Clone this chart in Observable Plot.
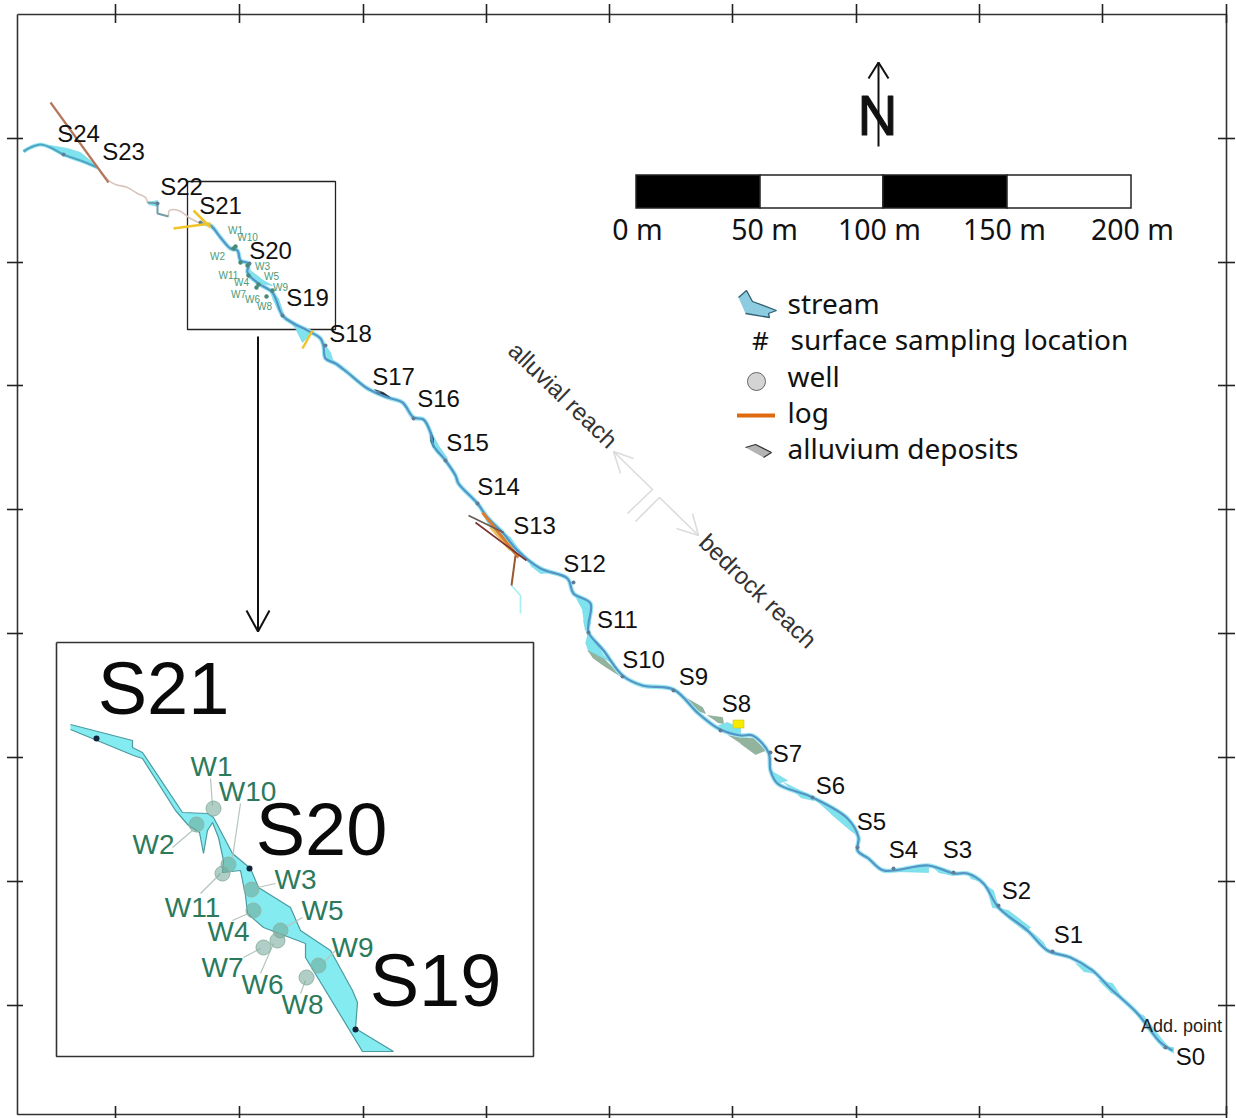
<!DOCTYPE html>
<html>
<head>
<meta charset="utf-8">
<script src="https://cdn.jsdelivr.net/npm/d3@7"></script>
<script src="https://cdn.jsdelivr.net/npm/@observablehq/plot@0.6"></script>
<style>html,body{margin:0;padding:0;background:#fff}svg{display:block}</style>
</head>
<body>
<div id="chart"></div>
<script>
// Frame graticule
const frame = [[17,14],[1226,14],[1226,1114],[17,1114],[17,14]];
const tickXs = [115,239,363,486,609,732,856,979,1102,1226];
const tickYs = [138,262,385,509,633,757,881,1005];

// Stream centre line (map reading)
const channelA = [[23,151],[30,147],[40,144],[50,147],[63,154],[80,160],[97,167]];
const channelFaint = [[97,167],[108,180],[115,184],[127,187],[137,193],[145,197],[147,202]];
const channelFaint2 = [[168,216],[169,210],[178,210],[190,218],[200,223]];
const channelB = [[147,202],[157,203],[157,213],[168,216]];
const channelC = [[200,223],[210,225],[220,237],[230,248],[237,250],[240,260],[248,263],[247,272],[258,283],[272,292],[282,315],[293,323],[307,330],[320,338],
  [323,345],[325,358],[335,363],[347,372],[367,388],[387,397],[402,402],[413,417],[423,419],[430,432],[433,445],[445,460],[455,475],[458,483],[477,503],[487,517],[503,533],[517,550],[540,568],[567,578],[573,593],[590,603],[588,623],[588,632],
  [603,650],[622,675],[642,685],[673,689],[698,713],[718,728],[740,735],[752,735],[768,752],[770,770],[777,783],[812,797],[847,818],[858,837],[857,850],[868,858],[883,870],[928,865],[953,873],[967,873],[983,883],[998,907],[1027,930],[1047,950],[1070,957],[1092,970],[1110,988],[1137,1013],[1160,1042],[1172,1050]];

// Wetted stream patches
const streamPatches = [
  [[50,145],[67,148],[80,152],[97,166],[93,166],[80,159],[63,155],[50,148]],
  [[147,202],[157,200],[157,206],[148,204]],
  [[282,315],[293,322],[312,332],[302,342],[295,328]],
  [[247,263],[250,270],[263,280],[272,285],[257,283],[248,277]],
  [[268,288],[278,298],[283,313],[278,310],[272,298]],
  [[325,345],[330,352],[333,362],[326,358]],
  [[430,430],[438,445],[447,458],[437,453],[432,443]],
  [[480,510],[493,527],[510,537],[517,547],[527,558],[513,553],[503,543],[487,523]],
  [[527,558],[540,568],[553,572],[540,573],[530,565]],
  [[573,593],[590,603],[588,620],[585,627],[582,610]],
  [[583,607],[590,610],[590,623],[585,630],[583,620]],
  [[587,633],[595,642],[603,655],[613,663],[588,650],[585,642]],
  [[718,725],[727,722],[740,728],[740,735],[728,732],[720,728]],
  [[770,770],[787,780],[777,783]],
  [[783,782],[810,795],[813,800],[800,797]],
  [[813,798],[847,818],[857,835],[850,830],[830,813]],
  [[885,870],[928,865],[928,872],[893,871]],
  [[930,865],[950,870],[953,875],[938,872]],
  [[967,872],[977,880],[970,878]],
  [[985,885],[993,890],[998,908],[992,907],[989,897]],
  [[998,908],[1008,910],[1030,927],[1025,931],[1007,917]],
  [[1032,932],[1043,942],[1047,950],[1038,943]],
  [[1075,963],[1092,968],[1095,973],[1083,971]],
  [[1098,980],[1112,983],[1122,998],[1110,992]],
  [[1135,1013],[1143,1015],[1160,1037],[1168,1047],[1163,1048],[1155,1037]],
  [[1165,1047],[1173,1047],[1173,1053]]
];

const alluvium = [
  [[587,650],[600,655],[617,672],[622,677],[603,665],[592,657]],
  [[685,697],[702,707],[705,713],[697,710]],
  [[707,715],[722,717],[723,723],[717,722]],
  [[728,735],[740,737],[753,738],[765,750],[755,754],[740,743]]
];

const darkPatches = [
  [[374,389],[383,392],[390,397],[381,395]],
  [[430,431],[433,438],[433,447],[430,440]]
];

// Logs: stroke colour, width, end points
const logs = [
  ["#b5775a",2.2,[[50,102],[108,182]]],
  ["#f0c428",2.5,[[193,210],[210,227]]],
  ["#f0c428",2.5,[[173,228],[210,223]]],
  ["#f0c428",2.5,[[312,330],[302,348]]],
  ["#f0c060",2.5,[[490,527],[510,550]]],
  ["#e07a2c",3,[[482,512],[518,557]]],
  ["#6a5a55",1.6,[[468,515],[503,532]]],
  ["#7a3030",1.6,[[475,522],[526,560]]],
  ["#9a5a30",2,[[515,555],[511,585]]]
];
const paleTail = [[511,585],[520,595],[520,613]];

// Sampling labels of the main map
const stationNames = ["S24","S23","S22","S21","S20","S19","S18","S17","S16","S15","S14","S13","S12","S11","S10","S9","S8","S7","S6","S5","S4","S3","S2","S1","S0"];
const stationX = [78,123,181,220,270,307,350,393,438,467,498,534,584,617,643,693,736,787,830,871,903,957,1016,1068,1190];
const stationY = [134,152,187,206,251,298,334,377,399,443,487,526,564,620,660,677,704,754,786,822,850,850,891,935,1057];
const markerX = [63,157,200,249,282,325,378,413,445,477,573,588,622,673,720,770,812,857,893,953,998,1052,1165];
const markerY = [154,203,222,263,315,345,392,418,460,503,582,632,676,690,730,752,797,847,868,872,905,951,1047];

// Small well labels in the main map
const wellNames = ["W1","W10","W2","W3","W5","W11","W4","W7","W6","W8","W9"];
const miniWellX = [235,247,217,262,271,228,241,238,252,264,280];
const miniWellY = [230,237,256,266,276,275,282,294,299,306,287];
const miniDotX = [235,233,240,247,248,258,256,272,266];
const miniDotY = [246,248,262,265,275,284,287,290,296];

// Inset
const insetBox = [[56,642],[533,642],[533,1056],[56,1056],[56,642]];
const zoomBox = [[187,181],[335,181],[335,329],[187,329],[187,181]];
const insetStream = [[70,724],[132,740],[132,747],[142,752],[182,812],[207,813],[213,817],[232,853],[250,868],[258,887],[290,907],[300,930],[330,950],[352,990],[357,1002],[355,1028],[393,1051],[362,1051],[305,957],[305,943],[263,927],[247,913],[245,895],[240,870],[222,872],[223,860],[218,837],[212,822],[207,830],[203,853],[199,832],[188,825],[175,810],[142,758],[133,755],[70,729]];
const insetLabelX = [211,247,153,295,322,192,228,222,262,302,352];
const insetLabelY = [767,792,845,880,911,908,932,968,985,1005,948];
const wellX = [213,228,196,251,280,222,253,263,277,306,318];
const wellY = [808,864,824,889,930,873,910,947,940,977,965];
const leaders = [
  [[210,778],[212,805]],[[240,803],[232,857]],[[172,847],[192,830]],[[275,883],[257,887]],[[302,917],[283,928]],
  [[200,893],[220,873]],[[232,920],[250,912]],[[243,957],[260,948]],[[260,973],[273,943]],[[300,993],[305,980]],[[335,950],[323,962]]
];
const insetDots = [[96,738],[249,868],[355,1029]];
const insetNames = ["S21","S20","S19"];
const insetNameX = [163,321,435];
const insetNameY = [690,831,982];

// Connector, north arrow, scale bar
const connector = [[[257.5,336],[257.5,630]],[[246,610],[257.5,631],[269,610]]];
const north = [[[878,146],[878,62]],[[868,78],[878,62],[888,78]]];
const scaleEdges = [636,760,883,1007,1131];
const scaleFill = ["#000","#fff","#000","#fff"];
const scaleLabels = ["0 m","50 m","100 m","150 m","200 m"];
const scaleLabelX = [637,764,879,1004,1132];

// Legend
const legendNames = ["stream","surface sampling location","well","log","alluvium deposits"];
const legendX = [787,790,787,787,787];
const legendY = [305,341,378,414,450];
const streamIcon = [[738,297],[746,290],[752,301],[776,310],[768,313],[769,317],[745,313]];
const alluviumIcon = [[745,447],[755,444],[771,452],[763,457]];

// Reach annotation
const reachArrows = [
  [[627,513],[652,489],[613,451]],[[633,458],[613,451],[620,473]],
  [[635,521],[659,497],[698,535]],[[676,528],[698,535],[692,513]]
];

const SANS = "Liberation Sans";
const TAHOMA = "Noto Sans";
const pts = (polys) => polys.flatMap((p,i) => p.map(([x,y]) => ({x,y,z:i})));
const path = (polys, o) => Plot.line(pts(polys), {x:"x", y:"y", z:"z", curve:"linear", strokeLinejoin:"miter", strokeLinecap:"butt", ...o});
const T = (names, xs, ys, o) => Plot.text(names, {x:(d,i)=>xs[i], y:(d,i)=>ys[i], text:d=>d, ...o});

const plot = Plot.plot({
  width:1236, height:1118, margin:0,
  x:{domain:[0,1236], range:[0,1236], axis:null},
  y:{domain:[0,1118], range:[0,1118], axis:null},
  style:{background:"#fff"},
  marks:[
    // frame
    path([frame], {stroke:"#333", strokeWidth:1.6}),
    Plot.ruleX(tickXs, {x:d=>d, y1:4, y2:23, stroke:"#222", strokeWidth:1.6}),
    Plot.ruleX(tickXs, {x:d=>d, y1:1106, y2:1118, stroke:"#222", strokeWidth:1.6}),
    Plot.ruleY(tickYs, {y:d=>d, x1:7, x2:23, stroke:"#222", strokeWidth:1.6}),
    Plot.ruleY(tickYs, {y:d=>d, x1:1218, x2:1235, stroke:"#222", strokeWidth:1.6}),
    // zoom box + arrow
    path([zoomBox], {stroke:"#222", strokeWidth:1.3}),
    path(connector, {stroke:"#111", strokeWidth:2}),
    // alluvium & stream patches
    path(alluvium, {fill:"#93b49c", stroke:"#7f9f90", strokeWidth:0.6}),
    path([channelA], {stroke:"#9be8f0", strokeWidth:4, curve:"catmull-rom"}),
    path([channelC], {stroke:"#9be8f0", strokeWidth:4.5, curve:"catmull-rom"}),
    path(streamPatches, {fill:"#7fe3ee", stroke:"#74d2e2", strokeWidth:0.6}),
    path(darkPatches, {fill:"#1c3440", stroke:"#1c3440", strokeWidth:0.6}),
    path([channelFaint, channelFaint2], {stroke:"#d8c4bc", strokeWidth:1.6, curve:"catmull-rom"}),
    path([channelA], {stroke:"#4fa6c4", strokeWidth:2.2, curve:"catmull-rom"}),
    path([channelB], {stroke:"#6f9ea5", strokeWidth:2}),
    path([channelC], {stroke:"#5494c6", strokeWidth:2.2, curve:"catmull-rom"}),
    path([paleTail], {stroke:"#a8f0f6", strokeWidth:1.8}),
    Plot.dot(markerX, {x:d=>d, y:(d,i)=>markerY[i], r:2, fill:"#5f7d96"}),
    Plot.dot(miniDotX, {x:d=>d, y:(d,i)=>miniDotY[i], r:2.2, fill:"#4a8a78"}),
    ...logs.map(([c,w,l]) => path([l], {stroke:c, strokeWidth:w})),
    // yellow station square
    Plot.rect([0], {x1:733, x2:744, y1:720, y2:728, fill:"#f6ea00", stroke:"#c8c000", strokeWidth:0.5}),
    // main labels
    T(stationNames, stationX, stationY, {fontFamily:SANS, fontSize:24, fill:"#111", textAnchor:"middle"}),
    Plot.text(["Add. point"], {x:1181, y:1026, text:d=>d, fontFamily:SANS, fontSize:18, fill:"#222"}),
    T(wellNames, miniWellX, miniWellY, {fontFamily:SANS, fontSize:10, fill:"#4a9a78"}),
    // reach annotation
    path(reachArrows, {stroke:"#dcdcdc", strokeWidth:1.6}),
    Plot.text(["alluvial reach"], {x:562, y:395, text:d=>d, rotate:44, fontFamily:SANS, fontSize:24, fill:"#333"}),
    Plot.text(["bedrock reach"], {x:757, y:591, text:d=>d, rotate:44, fontFamily:SANS, fontSize:24, fill:"#333"}),
    // north
    path(north, {stroke:"#111", strokeWidth:2}),
    Plot.text(["N"], {x:877, y:117, text:d=>d, fontFamily:TAHOMA, fontSize:54, stroke:"#111", strokeWidth:1.2, fill:"#111"}),
    // scale bar
    Plot.rect(scaleFill, {x1:(d,i)=>scaleEdges[i], x2:(d,i)=>scaleEdges[i+1], y1:175, y2:208, fill:d=>d, stroke:"#222", strokeWidth:1.5}),
    T(scaleLabels, scaleLabelX, scaleLabels.map(()=>230), {fontFamily:TAHOMA, fontSize:28.5, fill:"#111"}),
    // legend
    path([streamIcon], {fill:"#8ccbe0", stroke:"#2f5f70", strokeWidth:1.3}),
    Plot.text(["#"], {x:760, y:341, text:d=>d, fontFamily:TAHOMA, fontSize:26, fill:"#111"}),
    Plot.dot([0], {x:()=>756, y:()=>381, r:9, fill:"#d4d4d4", stroke:"#666", strokeWidth:1}),
    Plot.ruleY([415], {x1:737, x2:775, y:d=>d, stroke:"#e06a10", strokeWidth:4}),
    path([alluviumIcon], {fill:"#b4b4b4", stroke:"#333", strokeWidth:1.2}),
    T(legendNames, legendX, legendY, {fontFamily:TAHOMA, fontSize:28, fill:"#111", textAnchor:"start"}),
    // inset
    Plot.rect([0], {x1:56, x2:533, y1:642, y2:1056, fill:"#fff"}),
    path([insetBox], {stroke:"#333", strokeWidth:1.6}),
    path([insetStream], {fill:"#84ecf0", stroke:"#4a9aa0", strokeWidth:1.2}),
    path(leaders, {stroke:"#b5c4bc", strokeWidth:1.2}),
    Plot.dot(wellNames, {x:(d,i)=>wellX[i], y:(d,i)=>wellY[i], r:7.5, fill:"#6fa596", fillOpacity:0.55, stroke:"#8fb5a5", strokeWidth:1}),
    Plot.dot(insetDots, {x:d=>d[0], y:d=>d[1], r:3, fill:"#10233a"}),
    T(wellNames, insetLabelX, insetLabelY, {fontFamily:SANS, fontSize:28, fill:"#2c7a5c"}),
    T(insetNames, insetNameX, insetNameY, {fontFamily:SANS, fontSize:74, fill:"#0a0a0a"})
  ]
});
document.getElementById("chart").appendChild(plot);
</script>
</body>
</html>
